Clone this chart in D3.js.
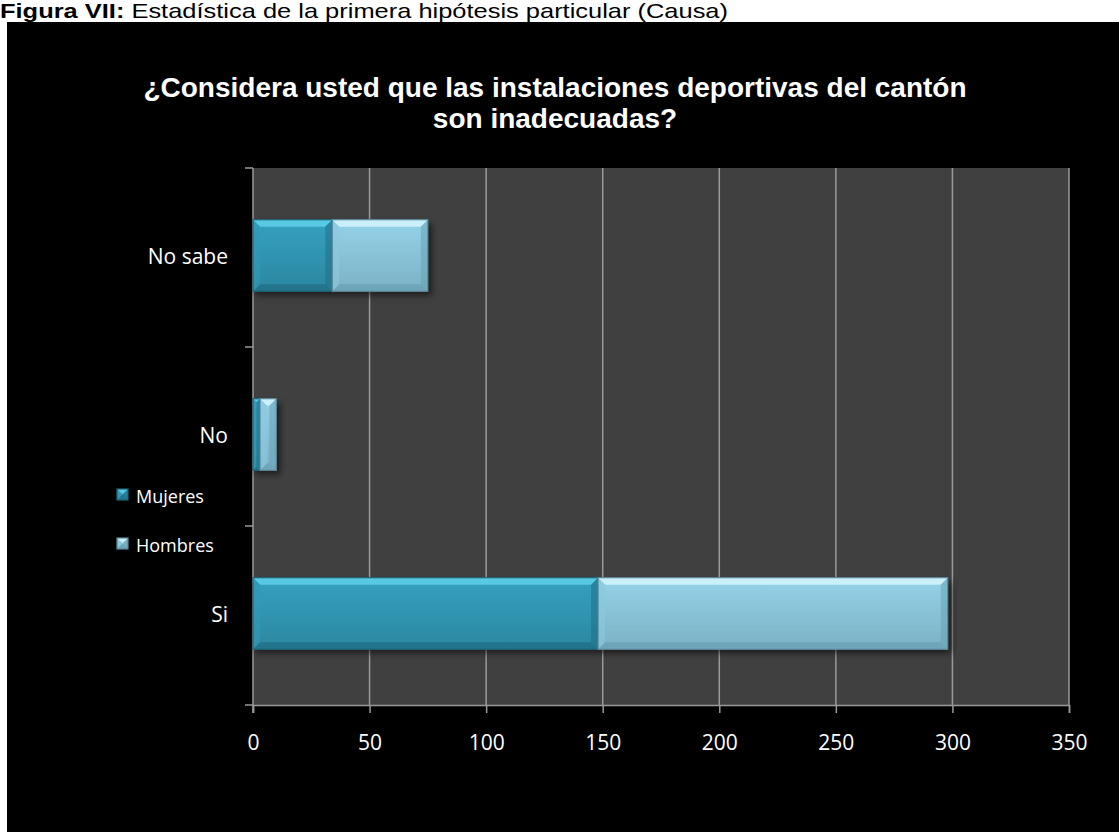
<!DOCTYPE html>
<html>
<head>
<meta charset="utf-8">
<script src="https://cdn.jsdelivr.net/npm/d3@7"></script>
<style>
  html, body { margin: 0; padding: 0; background: #ffffff; }
  svg { display: block; }
</style>
</head>
<body>
<svg id="chart" width="1119" height="832"></svg>
<script>
// ---- data ----
const categories = ["No sabe", "No", "Si"];
const seriesNames = ["Mujeres", "Hombres"];
const mujeres = [34, 3, 148];
const hombres = [41, 7, 150];
const xTicks = [0, 50, 100, 150, 200, 250, 300, 350];
const titleLines = ["¿Considera usted que las instalaciones deportivas del cantón", "son inadecuadas?"];
const captionBold = "Figura VII:";
const captionText = " Estadística de la primera hipótesis particular (Causa)";

const colors = {
  Mujeres: { base: "#3299b6", light: "#5fd0ea", dark: "#206f86", edge: "#1f6377" },
  Hombres: { base: "#8cc8de", light: "#d6f6fd", dark: "#6aa2b5", edge: "#5d8797" }
};

const svg = d3.select("#chart");
const defs = svg.append("defs");

Object.entries(colors).forEach(([k, c]) => {
  const g = defs.append("linearGradient").attr("id", "grad-" + k)
    .attr("x1", 0).attr("y1", 0).attr("x2", 0).attr("y2", 1);
  g.append("stop").attr("offset", "0%").attr("stop-color", d3.color(c.base).brighter(0.15));
  g.append("stop").attr("offset", "100%").attr("stop-color", d3.color(c.base).darker(0.35));
});
const blur = defs.append("filter").attr("id", "shadow").attr("x", "-10%").attr("y", "-30%").attr("width", "130%").attr("height", "180%");
blur.append("feGaussianBlur").attr("stdDeviation", 3);

// black chart area
svg.append("rect").attr("x", 7).attr("y", 22).attr("width", 1112).attr("height", 810).attr("fill", "#000");

// caption (top)
const cap = svg.append("text").attr("x", 0).attr("y", 18)
  .attr("font-family", "Liberation Sans, Arial, sans-serif").attr("font-size", 21).attr("fill", "#000")
  .attr("textLength", 728).attr("lengthAdjust", "spacingAndGlyphs");
cap.append("tspan").attr("font-weight", "bold").text(captionBold);
cap.append("tspan").text(captionText);

// title
svg.append("g").selectAll("text").data(titleLines).join("text")
  .attr("x", 555).attr("y", (d, i) => 97 + i * 31)
  .attr("text-anchor", "middle")
  .attr("font-family", "Liberation Sans, Arial, sans-serif")
  .attr("font-weight", "bold").attr("font-size", 28).attr("fill", "#ffffff")
  .text(d => d);

// scales
const x = d3.scaleLinear().domain([0, 350]).range([253, 1069]);
const y = d3.scaleBand().domain(categories).range([166, 703]).paddingInner(0.6).paddingOuter(0.3);
const plotTop = 168, plotBottom = 705;

// plot background
svg.append("rect").attr("x", x(0)).attr("y", plotTop).attr("width", x(350) - x(0)).attr("height", plotBottom - plotTop)
  .attr("fill", "#404040");

// grid lines
svg.append("g").selectAll("line").data(xTicks.slice(1)).join("line")
  .attr("x1", d => x(d)).attr("x2", d => x(d)).attr("y1", plotTop).attr("y2", plotBottom)
  .attr("stroke", "#9a9a9a").attr("stroke-width", 1.5);

// x axis
const xAxis = svg.append("g").attr("transform", "translate(0," + plotBottom + ")")
  .call(d3.axisBottom(x).tickValues(xTicks).tickSize(8).tickPadding(22));
xAxis.select(".domain").attr("stroke", "#9a9a9a").attr("stroke-width", 1.5);
xAxis.selectAll(".tick line").attr("stroke", "#9a9a9a").attr("stroke-width", 1.5);
xAxis.selectAll(".tick text").attr("fill", "#ffffff").attr("font-size", 21)
  .attr("font-family", "Open Sans, sans-serif");

// y axis (category boundaries)
const step = (plotBottom - plotTop) / categories.length;
const yBounds = d3.range(categories.length + 1).map(i => plotTop + i * step);
svg.append("line").attr("x1", x(0)).attr("x2", x(0)).attr("y1", plotTop).attr("y2", plotBottom + 8)
  .attr("stroke", "#9a9a9a").attr("stroke-width", 1.5);
svg.append("g").selectAll("line").data(yBounds).join("line")
  .attr("x1", x(0) - 8).attr("x2", x(0)).attr("y1", d => d).attr("y2", d => d)
  .attr("stroke", "#9a9a9a").attr("stroke-width", 1.5);
svg.append("g").selectAll("text").data(categories).join("text")
  .attr("x", 228).attr("y", d => y(d) + y.bandwidth() / 2 + 8)
  .attr("text-anchor", "end").attr("fill", "#ffffff").attr("font-size", 21)
  .attr("font-family", "Open Sans, sans-serif")
  .text(d => d);

// stacked data
const rows = categories.map((c, i) => ({ cat: c, Mujeres: mujeres[i], Hombres: hombres[i] }));
const stack = d3.stack().keys(seriesNames)(rows);

function bevelBar(g, x0, x1, y0, y1, c, key) {
  const w = x1 - x0, h = y1 - y0;
  const b = Math.min(7, w / 2, h / 2);
  g.append("rect").attr("x", x0).attr("y", y0).attr("width", w).attr("height", h)
    .attr("fill", "url(#grad-" + key + ")");
  g.append("polygon").attr("points", [[x0, y0], [x1, y0], [x1 - b, y0 + b], [x0 + b, y0 + b]].join(" "))
    .attr("fill", c.light).attr("opacity", 0.85);
  g.append("polygon").attr("points", [[x0, y1], [x1, y1], [x1 - b, y1 - b], [x0 + b, y1 - b]].join(" "))
    .attr("fill", c.dark).attr("opacity", 0.8);
  g.append("polygon").attr("points", [[x0, y0], [x0 + b, y0 + b], [x0 + b, y1 - b], [x0, y1]].join(" "))
    .attr("fill", c.base).attr("opacity", 0.6);
  g.append("polygon").attr("points", [[x1, y0], [x1 - b, y0 + b], [x1 - b, y1 - b], [x1, y1]].join(" "))
    .attr("fill", c.dark).attr("opacity", 0.55);
  g.append("rect").attr("x", x0).attr("y", y0).attr("width", w).attr("height", h)
    .attr("fill", "none").attr("stroke", c.edge).attr("stroke-width", 1.2);
}

// shadows
const shadowG = svg.append("g");
rows.forEach(r => {
  const total = r.Mujeres + r.Hombres;
  shadowG.append("rect").attr("x", x(0) + 2).attr("y", y(r.cat) + 4)
    .attr("width", x(total) - x(0) + 2).attr("height", y.bandwidth())
    .attr("fill", "#000").attr("opacity", 0.55).attr("filter", "url(#shadow)");
});

const barsG = svg.append("g");
stack.forEach(layer => {
  const key = layer.key;
  layer.forEach(d => {
    const g = barsG.append("g");
    bevelBar(g, x(d[0]), x(d[1]), y(d.data.cat), y(d.data.cat) + y.bandwidth(), colors[key], key);
  });
});

// legend
const legend = svg.append("g");
seriesNames.forEach((s, i) => {
  const ly = 496 + i * 49;
  const g = legend.append("g");
  bevelBar(g, 117, 128, ly - 7, ly + 4, colors[s], s);
  legend.append("text").attr("x", 136).attr("y", ly + 7)
    .attr("fill", "#ffffff").attr("font-size", 18).attr("font-family", "Open Sans, sans-serif")
    .text(s);
});
</script>
</body>
</html>
